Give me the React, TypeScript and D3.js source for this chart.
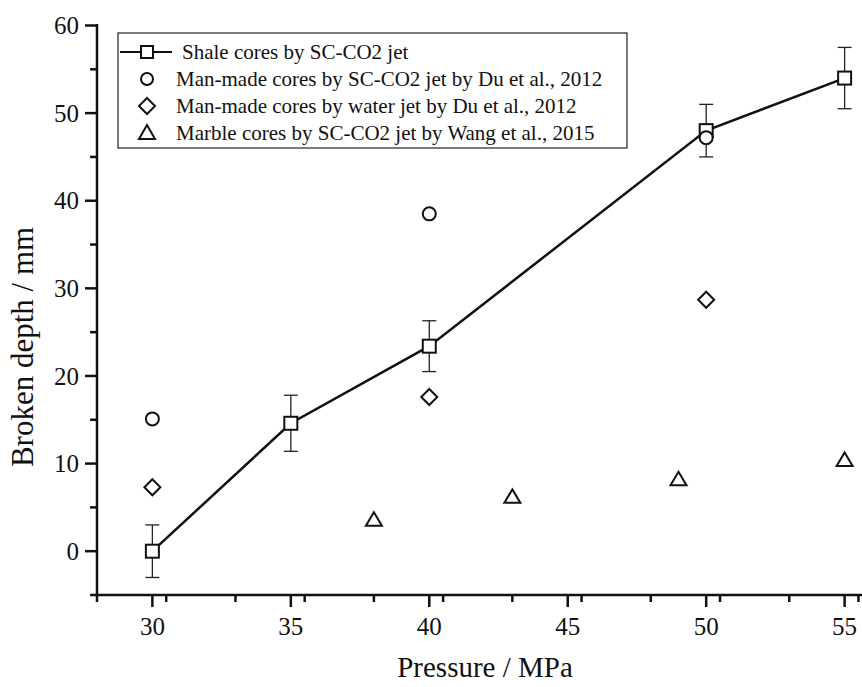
import React from "react";
import * as d3 from "d3";

const shaleP = [30, 35, 40, 50, 55];
const shaleD = [0, 14.6, 23.4, 48.0, 54.0];
const shaleErr = [3.0, 3.2, 2.9, 3.0, 3.5];
const duCo2P = [30, 40, 50];
const duCo2D = [15.1, 38.5, 47.2];
const duWaterP = [30, 40, 50];
const duWaterD = [7.3, 17.6, 28.7];
const wangP = [38, 43, 49, 55];
const wangD = [3.6, 6.2, 8.2, 10.4];
const xTicks = [30, 35, 40, 45, 50, 55];
const yTicks = [0, 10, 20, 30, 40, 50, 60];
const legendLabels = [
  "Shale cores by SC-CO2 jet",
  "Man-made cores by SC-CO2 jet by Du et al., 2012",
  "Man-made cores by water jet by Du et al., 2012",
  "Marble cores by SC-CO2 jet by Wang et al., 2015",
];

const W = 862;
const H = 687;
const FONT = "'Liberation Serif', 'DejaVu Serif', serif";

export default function App() {
  const x = d3.scaleLinear().domain([28, 57]).range([97, 900]);
  const y = d3.scaleLinear().domain([-5, 60]).range([595, 25.5]);
  const xMinor = d3.range(28, 57.01, 2.5).filter((v) => v % 5 !== 0);
  const yMinor = d3.range(-5, 60, 5).filter((v) => v % 10 !== 0);
  const line = d3
    .line<number>()
    .x((_, i) => x(shaleP[i]))
    .y((d) => y(d));

  const sq = (cx: number, cy: number, s = 13) => (
    <rect x={cx - s / 2} y={cy - s / 2} width={s} height={s} fill="white" stroke="#111" strokeWidth={2} />
  );
  const circ = (cx: number, cy: number, k?: any) => (
    <circle key={k} cx={cx} cy={cy} r={6.5} fill="white" stroke="#111" strokeWidth={2} />
  );
  const diam = (cx: number, cy: number, k?: any) => (
    <path key={k} d={`M${cx},${cy - 8}L${cx + 8},${cy}L${cx},${cy + 8}L${cx - 8},${cy}Z`} fill="white" stroke="#111" strokeWidth={2} />
  );
  const tri = (cx: number, cy: number, k?: any) => (
    <path key={k} d={`M${cx},${cy - 7.5}L${cx + 8},${cy + 6}L${cx - 8},${cy + 6}Z`} fill="white" stroke="#111" strokeWidth={2} />
  );

  const lx = 118;
  const ly = 33;
  const rowY = [52, 79, 106, 133];
  const mx = 147;

  return (
    <svg width={W} height={H} style={{ position: "absolute", left: 0, top: 0, background: "white" }}>
      <rect width={W} height={H} fill="white" />
      {/* axes */}
      <line x1={97} x2={97} y1={24} y2={596} stroke="#111" strokeWidth={2.5} />
      <line x1={96} x2={W} y1={595} y2={595} stroke="#111" strokeWidth={2.5} />
      {yTicks.map((t) => (
        <g key={"yt" + t}>
          <line x1={85} x2={97} y1={y(t)} y2={y(t)} stroke="#111" strokeWidth={2.5} />
          <text x={79} y={y(t)} dy="0.35em" textAnchor="end" fontFamily={FONT} fontSize={25} fill="#111">
            {t}
          </text>
        </g>
      ))}
      {yMinor.map((t) => (
        <line key={"ym" + t} x1={90} x2={97} y1={y(t)} y2={y(t)} stroke="#111" strokeWidth={2.5} />
      ))}
      {xTicks.map((t) => (
        <g key={"xt" + t}>
          <line x1={x(t)} x2={x(t)} y1={595} y2={607} stroke="#111" strokeWidth={2.5} />
          <text x={x(t)} y={635} textAnchor="middle" fontFamily={FONT} fontSize={25} fill="#111">
            {t}
          </text>
        </g>
      ))}
      {xMinor.map((t) => (
        <line key={"xm" + t} x1={x(t)} x2={x(t)} y1={595} y2={602} stroke="#111" strokeWidth={2.5} />
      ))}
      <text x={485} y={677} textAnchor="middle" fontFamily={FONT} fontSize={29} fill="#111">
        Pressure / MPa
      </text>
      <text
        transform={`translate(33,347) rotate(-90)`}
        textAnchor="middle"
        fontFamily={FONT}
        fontSize={31}
        fill="#111"
      >
        Broken depth / mm
      </text>

      {/* shale line + error bars */}
      <path d={line(shaleD) || ""} fill="none" stroke="#111" strokeWidth={2.5} />
      {shaleP.map((p, i) => {
        const cx = x(p);
        const t = y(shaleD[i] + shaleErr[i]);
        const b = y(shaleD[i] - shaleErr[i]);
        return (
          <g key={"eb" + i}>
            <line x1={cx} x2={cx} y1={t} y2={b} stroke="#222" strokeWidth={1.3} />
            <line x1={cx - 7} x2={cx + 7} y1={t} y2={t} stroke="#222" strokeWidth={1.3} />
            <line x1={cx - 7} x2={cx + 7} y1={b} y2={b} stroke="#222" strokeWidth={1.3} />
          </g>
        );
      })}
      {shaleP.map((p, i) => (
        <g key={"sq" + i}>{sq(x(p), y(shaleD[i]))}</g>
      ))}
      {duCo2P.map((p, i) => circ(x(p), y(duCo2D[i]), "c" + i))}
      {duWaterP.map((p, i) => diam(x(p), y(duWaterD[i]), "d" + i))}
      {wangP.map((p, i) => tri(x(p), y(wangD[i]), "t" + i))}

      {/* legend */}
      <rect x={lx} y={ly} width={509} height={115} fill="white" stroke="#333" strokeWidth={1.3} />
      <line x1={120} x2={172} y1={rowY[0]} y2={rowY[0]} stroke="#111" strokeWidth={2} />
      {sq(mx, rowY[0], 12)}
      <circle cx={mx} cy={rowY[1]} r={6} fill="white" stroke="#111" strokeWidth={2} />
      <path d={`M${mx},${rowY[2] - 8}L${mx + 8},${rowY[2]}L${mx},${rowY[2] + 8}L${mx - 8},${rowY[2]}Z`} fill="white" stroke="#111" strokeWidth={2} />
      <path d={`M${mx},${rowY[3] - 8}L${mx + 8},${rowY[3] + 6}L${mx - 8},${rowY[3] + 6}Z`} fill="white" stroke="#111" strokeWidth={2} />
      {legendLabels.map((l, i) => (
        <text key={"lg" + i} x={i === 0 ? 182 : 176} y={rowY[i]} dy="0.35em" fontFamily={FONT} fontSize={21} fill="#111">
          {l}
        </text>
      ))}
    </svg>
  );
}
